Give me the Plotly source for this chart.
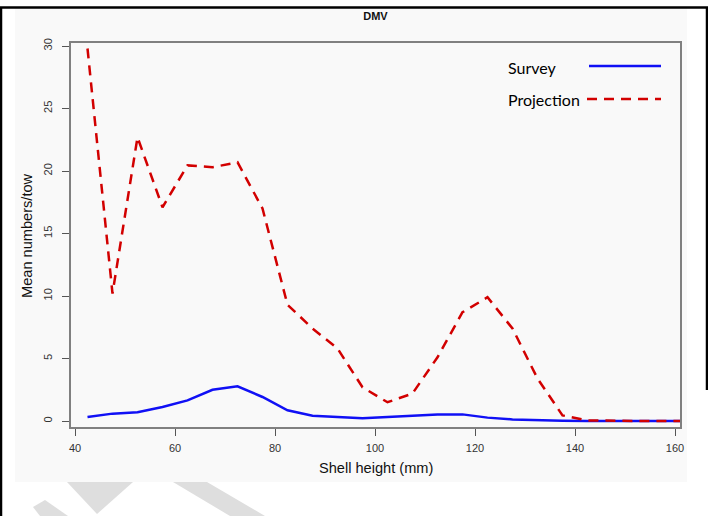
import plotly.graph_objects as go

# ---- data ----
shell_height = [42.5, 47.5, 52.5, 57.5, 62.5, 67.5, 72.5, 77.5, 82.5, 87.5,
                92.5, 97.5, 102.5, 107.5, 112.5, 117.5, 122.5, 127.5, 132.5,
                137.5, 142.5, 147.5, 152.5, 157.5, 162.5]
survey = [0.32, 0.59, 0.70, 1.12, 1.65, 2.50, 2.78, 1.92, 0.86, 0.42,
          0.32, 0.23, 0.32, 0.40, 0.53, 0.53, 0.27, 0.13, 0.06,
          0.02, 0.0, 0.0, 0.0, 0.0, 0.0]
projection = [29.8, 10.2, 22.7, 17.1, 20.45, 20.3, 20.7, 17.0, 9.3, 7.4,
              5.8, 2.7, 1.5, 2.2, 5.1, 8.7, 9.9, 7.4, 3.4,
              0.45, 0.05, 0.0, 0.0, 0.0, 0.0]
x_ticks = [40, 60, 80, 100, 120, 140, 160]
y_ticks = [0, 5, 10, 15, 20, 25, 30]
title_text = "DMV"
x_title = "Shell height (mm)"
y_title = "Mean numbers/tow"
series_names = ["Survey", "Projection"]

# ---- layout geometry (pixels) ----
W, H = 708, 516
L, R, T, B = 71, 680, 43, 427


def px(x):
    return (x - L) / (R - L)


def py(y):
    return (B - y) / (B - T)


BLUE = "#1010f5"
RED = "#d20000"

fig = go.Figure()
fig.add_trace(go.Scatter(x=shell_height, y=survey, mode="lines", name=series_names[0],
                         line=dict(color=BLUE, width=2.5), showlegend=False))
fig.add_trace(go.Scatter(x=shell_height, y=projection, mode="lines", name=series_names[1],
                         line=dict(color=RED, width=2.5, dash="10px,7px"), showlegend=False))

shapes = []
# gray page panel
shapes.append(dict(type="rect", xref="paper", yref="paper", x0=px(15), x1=px(687),
                   y0=py(482), y1=py(8), fillcolor="#f9f9f9", line=dict(width=0), layer="below"))
# black page borders
shapes.append(dict(type="line", xref="paper", yref="paper", x0=px(0), x1=px(708),
                   y0=py(7.5), y1=py(7.5), line=dict(color="black", width=2.5)))
shapes.append(dict(type="line", xref="paper", yref="paper", x0=px(1), x1=px(1),
                   y0=py(7), y1=py(516), line=dict(color="black", width=2.5)))
shapes.append(dict(type="line", xref="paper", yref="paper", x0=px(707), x1=px(707),
                   y0=py(7), y1=py(390), line=dict(color="black", width=2.5)))
# watermark fragments


def poly(pts):
    d = "M " + " L ".join(f"{px(a):.5f},{py(b):.5f}" for a, b in pts) + " Z"
    return dict(type="path", xref="paper", yref="paper", path=d,
                fillcolor="#dedede", line=dict(width=0), layer="below")


shapes.append(poly([(33, 507), (45, 500), (68, 516), (40, 516)]))
shapes.append(poly([(67, 482), (133, 482), (97, 514)]))
shapes.append(poly([(173, 482), (207, 482), (265, 516), (230, 516)]))
# legend lines
shapes.append(dict(type="line", xref="paper", yref="paper", x0=px(589), x1=px(661),
                   y0=py(66), y1=py(66), line=dict(color=BLUE, width=2.5)))
shapes.append(dict(type="line", xref="paper", yref="paper", x0=px(587), x1=px(661),
                   y0=py(99), y1=py(99), line=dict(color=RED, width=2.5, dash="10px,7px")))

annotations = [
    dict(text=series_names[0], xref="paper", yref="paper", x=px(506), y=py(67),
         xanchor="left", yanchor="middle", showarrow=False,
         font=dict(family="Lato, Open Sans, sans-serif", size=16, color="black")),
    dict(text=series_names[1], xref="paper", yref="paper", x=px(506), y=py(99),
         xanchor="left", yanchor="middle", showarrow=False,
         font=dict(family="Lato, Open Sans, sans-serif", size=16, color="black")),
    dict(text=x_title, xref="paper", yref="paper", x=0.5, y=py(468),
         xanchor="center", yanchor="middle", showarrow=False,
         font=dict(family="Liberation Sans, Arial, sans-serif", size=14.6, color="#111")),
    dict(text=y_title, xref="paper", yref="paper", x=px(27), y=py(236), textangle=-90,
         xanchor="center", yanchor="middle", showarrow=False,
         font=dict(family="Liberation Sans, Arial, sans-serif", size=14.6, color="#111")),
]

fig.update_layout(
    width=W, height=H,
    margin=dict(l=L, r=W - R, t=T, b=H - B, pad=0),
    paper_bgcolor="white",
    plot_bgcolor="#f9f9f9",
    title=dict(text="<b>" + title_text + "</b>", x=0.5, xref="paper", xanchor="center",
               y=1 - 16 / H, yanchor="middle",
               font=dict(family="Liberation Sans, Arial, sans-serif", size=11, color="#111")),
    shapes=shapes,
    annotations=annotations,
    showlegend=False,
)
fig.update_xaxes(range=[39.2, 161], tickvals=x_ticks, ticks="outside", ticklen=7,
                 tickcolor="#555", tickwidth=1, showgrid=False, zeroline=False,
                 showline=True, mirror=True, linecolor="#808080", linewidth=1.5,
                 ticklabelstandoff=3,
                 tickfont=dict(family="Liberation Sans, Arial, sans-serif", size=11, color="#333"))
fig.update_yaxes(range=[-0.48, 30.24], tickvals=y_ticks, ticks="outside", ticklen=7,
                 tickcolor="#555", tickwidth=1, showgrid=False, zeroline=False,
                 showline=True, mirror=True, linecolor="#808080", linewidth=1.5, tickangle=-90,
                 ticklabelstandoff=6,
                 tickfont=dict(family="Liberation Sans, Arial, sans-serif", size=11, color="#333"))

fig.write_html("out.html")
